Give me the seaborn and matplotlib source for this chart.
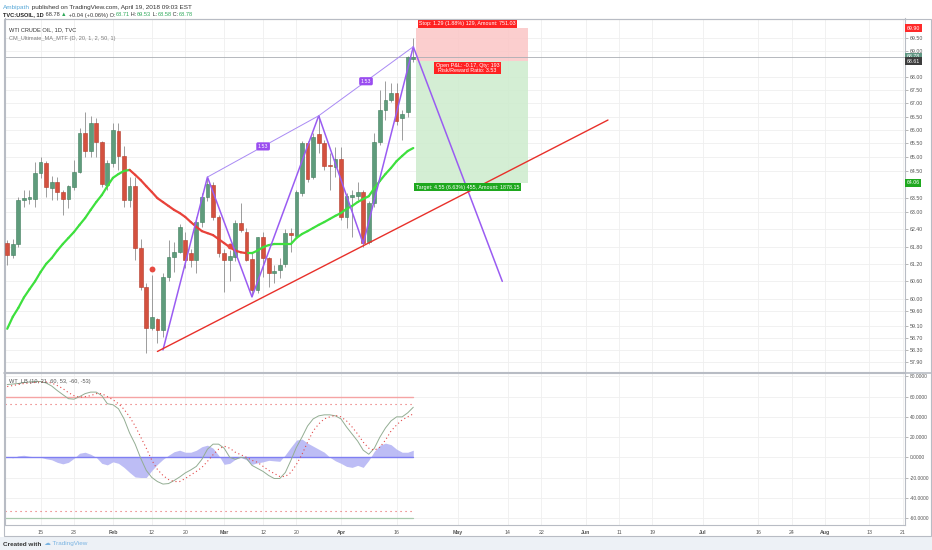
import numpy as np
import pandas as pd
import matplotlib.pyplot as plt
import matplotlib.ticker as mticker
from matplotlib.patches import Rectangle
from matplotlib.lines import Line2D
import seaborn as sns

sns.set_style('white')
plt.rcParams['font.family'] = ['Liberation Sans', 'DejaVu Sans']

# trading days shown on the time scale (Good Friday has no bar)
days = pd.bdate_range('2018-01-05', '2018-08-31')
days = days[days != pd.Timestamp('2018-03-30')]
pos = pd.Series(np.arange(len(days)), index=days)

# daily candles, Jan 5 .. Apr 19 2018
opens = [61.92, 61.50, 61.90, 63.45, 63.48, 63.48, 64.42, 64.78, 63.87, 64.09,
         63.73, 63.48, 63.91, 64.45, 65.89, 65.22, 66.26, 65.55, 64.00, 64.78,
         65.96, 65.04, 63.44, 63.94, 61.75, 60.40, 59.03, 59.33, 58.97, 60.75,
         61.43, 61.60, 62.03, 61.57, 61.33, 62.66, 63.55, 63.98, 62.84, 61.57,
         61.33, 61.43, 62.63, 62.31, 61.37, 60.30, 62.13, 61.40, 60.88, 60.98,
         61.20, 62.27, 62.17, 63.69, 65.51, 64.27, 65.85, 65.51, 64.71, 64.64,
         64.93, 62.84, 63.55, 63.59, 63.73, 61.96, 63.34, 65.55, 66.75, 67.12,
         67.39, 66.44, 66.67, 68.71]
highs = [62.04, 62.05, 63.55, 63.80, 63.80, 64.80, 65.00, 64.85, 64.30, 64.27,
         63.80, 64.00, 64.89, 66.06, 66.67, 66.52, 66.45, 65.60, 64.90, 66.26,
         66.26, 65.40, 64.27, 64.27, 62.07, 60.54, 60.82, 59.35, 60.88, 62.03,
         61.97, 62.60, 62.31, 61.70, 62.85, 63.70, 64.27, 64.10, 62.90, 61.70,
         61.68, 62.74, 63.34, 62.45, 61.57, 62.15, 62.31, 61.45, 61.16, 61.40,
         62.40, 62.45, 63.80, 65.60, 65.60, 65.88, 66.56, 65.63, 65.13, 65.37,
         65.37, 63.69, 63.80, 64.10, 63.80, 63.40, 65.88, 67.50, 67.83, 67.77,
         67.77, 66.75, 68.80, 69.53]
lows = [61.16, 61.40, 61.80, 63.20, 63.30, 63.20, 64.24, 63.56, 63.44, 63.44,
        62.90, 63.16, 63.80, 64.42, 65.00, 65.00, 65.00, 63.91, 63.80, 64.64,
        64.53, 63.20, 63.20, 61.33, 60.30, 58.21, 58.97, 58.54, 58.74, 60.60,
        60.92, 61.57, 61.06, 61.10, 60.88, 62.50, 63.40, 62.74, 61.45, 60.25,
        60.60, 61.30, 62.31, 61.30, 60.10, 60.20, 60.76, 60.41, 60.54, 60.70,
        61.10, 61.60, 62.10, 63.60, 64.10, 64.20, 65.15, 64.53, 63.80, 64.27,
        62.74, 62.45, 62.13, 63.44, 61.79, 61.90, 63.20, 65.45, 66.37, 67.05,
        66.20, 65.63, 66.50, 68.58]
closes = [61.50, 61.90, 63.45, 63.52, 63.55, 64.42, 64.80, 63.91, 64.09, 63.73,
          63.48, 63.94, 64.45, 65.89, 65.22, 66.26, 65.55, 64.02, 64.78, 66.00,
          65.04, 63.44, 63.94, 61.75, 60.40, 59.03, 59.40, 58.97, 60.75, 61.43,
          61.60, 62.49, 61.33, 61.33, 62.66, 63.55, 64.02, 62.84, 61.57, 61.33,
          61.47, 62.63, 62.38, 61.33, 60.30, 62.13, 61.40, 60.88, 60.95, 61.16,
          62.27, 62.20, 63.73, 65.51, 64.20, 65.74, 65.51, 64.67, 64.68, 64.93,
          62.84, 63.59, 63.62, 63.73, 61.92, 63.34, 65.55, 66.75, 67.12, 67.39,
          66.33, 66.60, 68.77, 68.78]

# CM_Ultimate_MA_MTF 20-day line
ma20 = [59.00, 59.40, 59.70, 60.05, 60.33, 60.60, 60.92, 61.20, 61.40, 61.66,
        61.89, 62.10, 62.31, 62.56, 62.80, 63.09, 63.37, 63.62, 63.94, 64.24,
        64.38, 64.49, 64.53, 64.35, 64.16, 63.94, 63.73, 63.51, 63.37, 63.23,
        63.09, 62.98, 62.84, 62.66, 62.49, 62.34, 62.27, 62.20, 62.06, 61.92,
        61.78, 61.66, 61.60, 61.57, 61.57, 61.66, 61.78, 61.85, 61.89, 61.89,
        61.89, 61.89, 62.10, 62.24, 62.34, 62.45, 62.56, 62.66, 62.77, 62.88,
        62.98, 63.13, 63.23, 63.37, 63.48, 63.58, 63.87, 64.13, 64.38, 64.60,
        64.85, 65.04, 65.22, 65.33]
dot_dates = ['2018-02-12', '2018-03-02']
dot_prices = [61.04, 61.82]

# drawings
pattern_dates = ['2018-02-14', '2018-02-26', '2018-03-08', '2018-03-26',
                 '2018-04-06', '2018-04-19', '2018-05-11']
pattern_prices = [58.30, 64.27, 60.07, 66.53, 61.90, 69.17, 60.60]
ratio_labels = ['1.53', '1.53']
trend_dates = ['2018-02-13', '2018-06-07']
trend_prices = [58.25, 66.37]

entry, stop, target = 68.61, 69.90, 64.06
box_dates = ['2018-04-20', '2018-05-18']
last_price = 68.78

price_ticks = [69.50, 69.00, 68.00, 67.50, 67.00, 66.50, 66.00, 65.50, 65.00,
               64.50, 63.50, 63.00, 62.40, 61.80, 61.20, 60.60, 60.00, 59.60,
               59.10, 58.70, 58.30, 57.90]
tags = [(69.90, '#ff2a2a'), (68.78, '#5f9682'), (68.61, '#3d3d3d'), (64.06, '#1ea81e')]

# WaveTrend (WT_LB)
wt1 = [72, 72.5, 73, 74, 74.5, 75, 75, 73.5, 70.5, 66,
       62, 58, 57.5, 60, 63, 64.5, 64.5, 61, 53, 52,
       48, 38, 24, 13, -1, -13, -20, -24, -26.5, -26,
       -23, -19.5, -15.5, -12.5, -9, -2, 8, 13, 13, 9,
       0, -2, 0, -1, -8, -11, -14, -18, -21, -21,
       -15, -3, 10, 20, 31, 38, 41, 42, 42, 41,
       38, 30, 23, 16, 7, 3, 9, 20, 29, 36,
       40, 40, 44, 49.5]
wt2 = [70, 71, 72, 73, 73.5, 74, 74.5, 74.5, 73.5, 71,
       68, 64, 61, 59.5, 60, 61, 63, 63, 60, 57,
       53, 47.5, 40, 31, 20, 9, -3, -12, -18, -22,
       -24, -24, -21, -17.5, -14, -10, -4, 2.5, 8, 11,
       9, 5, 2.5, 0, -3, -5, -9, -13, -16, -19,
       -19, -15, -7, 3, 15, 26, 33, 38, 40, 41.5,
       40, 36, 30, 23, 15, 9, 7, 10, 17, 26,
       32, 37, 40, 43]
wt_hist = [0.5, -0.5, 1.5, 2, 1, 0.5, 0, -1.5, -2.5, -5,
           -6.5, -5, -1, 4, 5, 3, 0, -6, -7.5, -4.5,
           -6, -10, -15, -19.5, -20, -20, -13, -7, -2, 2,
           5.5, 7, 5, 5, 7, 10.5, 12, 9, 2, -7,
           -6, -2, 0, -2.5, -7, -5.5, -4.5, -3, -3.5, -4,
           2.5, 10, 17, 18, 14, 11, 8, 5, 0, -3.5,
           -6, -9, -10, -8, -10, -3, 6, 12, 14, 12.5,
           8, 5, 5, 7]
wt_ticks = [80, 60, 40, 20, 0, -20, -40, -60]

tick_dates = ['2018-01-15', '2018-01-23', '2018-02-01', '2018-02-12', '2018-02-20',
              '2018-03-01', '2018-03-12', '2018-03-20', '2018-04-02', '2018-04-16',
              '2018-05-01', '2018-05-14', '2018-05-22', '2018-06-01', '2018-06-11',
              '2018-06-19', '2018-07-02', '2018-07-16', '2018-07-24', '2018-08-01',
              '2018-08-13', '2018-08-21']
tick_labels = ['15', '23', 'Feb', '12', '20', 'Mar', '12', '20', 'Apr', '16', 'May',
               '14', '22', 'Jun', '11', '19', 'Jul', '16', '24', 'Aug', '13', '21']

# ---------------------------------------------------------------
W, H = 932, 550
fig = plt.figure(figsize=(W / 100, H / 100), dpi=100)
ax = fig.add_axes([5 / W, (H - 372) / H, 900 / W, 353.5 / H])
ax2 = fig.add_axes([5 / W, (H - 525) / H, 900 / W, 152 / H])

xi = np.arange(len(closes))
tpos = [pos[pd.Timestamp(d)] for d in tick_dates]
grid_c = '#efefef'
for a in (ax, ax2):
    a.set_xlim(-0.4, 161.4)
    for t in tpos:
        a.axvline(t, color=grid_c, lw=0.6, zorder=0)
    for s in a.spines.values():
        s.set_color('#b8bcc4')
        s.set_linewidth(0.8)

# main pane
ax.set_yscale('log')
ax.set_ylim(57.58, 70.28)
for p in price_ticks:
    ax.axhline(p, color=grid_c, lw=0.6, zorder=0)

o = np.array(opens)
c = np.array(closes)
up = c >= o
body_c = np.where(up, '#5f9c7c', '#d4513f')
edge_c = np.where(up, '#3f7d5c', '#b23a2a')
ax.vlines(xi, lows, highs, color='#8d8d8d', lw=0.6, zorder=2)
ax.bar(xi, np.abs(c - o), bottom=np.minimum(o, c), width=0.68, color=body_c,
       edgecolor=edge_c, linewidth=0.4, zorder=3)

rows = []
for k in range(len(ma20) - 1):
    d = 'up' if ma20[k + 1] >= ma20[k] else 'down'
    rows += [(k, xi[k], ma20[k], d), (k, xi[k + 1], ma20[k + 1], d)]
segs = pd.DataFrame(rows, columns=['seg', 'x', 'ma', 'dir'])
sns.lineplot(data=segs, x='x', y='ma', hue='dir', units='seg', estimator=None,
             palette={'up': '#3ee03e', 'down': '#e8423a'}, lw=1.6, legend=False,
             ax=ax, zorder=4)
ax.scatter([pos[pd.Timestamp(d)] for d in dot_dates], dot_prices, s=18,
           color='#e64a40', zorder=5, linewidths=0)

# position box
bx0 = pos[pd.Timestamp(box_dates[0])] - 0.45
bx1 = pos[pd.Timestamp(box_dates[1])] - 0.45
ax.add_patch(Rectangle((bx0, entry), bx1 - bx0, stop - entry, fc='#fbc6c6',
                       ec='none', alpha=0.85, zorder=1))
ax.add_patch(Rectangle((bx0, target), bx1 - bx0, entry - target, fc='#cdeccd',
                       ec='none', alpha=0.85, zorder=1))
ax.axhline(last_price, color='#a9adb3', lw=0.6, zorder=1)
bc = (bx0 + bx1) / 2 - 0.8
lab = dict(fontsize=3.9, color='white', ha='center', zorder=8, clip_on=False)
ax.annotate('Stop: 1.29 (1.88%) 129, Amount: 751.03', xy=(bc, stop),
            xytext=(0, 1.2), textcoords='offset points', va='bottom',
            bbox=dict(boxstyle='square,pad=0.25', fc='#ff2222', ec='none'), **lab)
ax.annotate('Open P&L: -0.17, Qty: 193\nRisk/Reward Ratio: 3.53', xy=(bc, entry),
            xytext=(0, -1.5), textcoords='offset points', va='top', linespacing=0.95,
            bbox=dict(boxstyle='square,pad=0.25', fc='#ff2222', ec='none'), **lab)
ax.annotate('Target: 4.55 (6.63%) 455, Amount: 1878.15', xy=(bc, target),
            xytext=(0, -1.2), textcoords='offset points', va='top',
            bbox=dict(boxstyle='square,pad=0.25', fc='#1ea81e', ec='none'), **lab)

# pattern drawing and trend line
px = [pos[pd.Timestamp(d)] for d in pattern_dates]
ax.plot(px, pattern_prices, color='#9a5cf2', lw=1.1, zorder=6)
ax.plot([px[1], px[3], px[5]], [pattern_prices[1], pattern_prices[3], pattern_prices[5]],
        color='#a98af4', lw=0.7, zorder=6)
for lbl, (a_, b_) in zip(ratio_labels, [(1, 3), (3, 5)]):
    mx = (px[a_] + px[b_]) / 2
    my = np.sqrt(pattern_prices[a_] * pattern_prices[b_])
    ax.text(mx, my, lbl, fontsize=3.8, color='white', ha='center', va='center', zorder=8,
            bbox=dict(boxstyle='round,pad=0.3', fc='#9a4df0', ec='none'))
ax.plot([pos[pd.Timestamp(d)] for d in trend_dates], trend_prices, color='#e8302a',
        lw=1.0, zorder=6)

ax.yaxis.tick_right()
ax.yaxis.set_major_locator(mticker.FixedLocator(price_ticks))
ax.yaxis.set_major_formatter(mticker.FixedFormatter([f'{p:.2f}' for p in price_ticks]))
ax.yaxis.set_minor_locator(mticker.NullLocator())
ax.tick_params(axis='y', direction='out', length=2, width=0.5, color='#9a9a9a',
               labelsize=3.8, labelcolor='#555555', pad=1.5)
ax.set_xticks(tpos)
ax.tick_params(axis='x', length=0, labelbottom=False)
ax.set_xlabel('')
ax.set_ylabel('')
for v, col in tags:
    ax.annotate(f'{v:.2f}', xy=(1, v), xycoords=ax.get_yaxis_transform(),
                xytext=(1.2, 0), textcoords='offset points', va='center', ha='left',
                fontsize=3.8, color='white', annotation_clip=False, zorder=9,
                bbox=dict(boxstyle='square,pad=0.3', fc=col, ec='none'))

ax.text(0.004, 0.975, 'WTI CRUDE OIL, 1D, TVC', transform=ax.transAxes, fontsize=4.1,
        color='#333333', va='top')
ax.text(0.004, 0.95, 'CM_Ultimate_MA_MTF (D, 20, 1, 2, 50, 1)', transform=ax.transAxes,
        fontsize=4.1, color='#7a7a7a', va='top')

# WaveTrend pane
ax2.set_ylim(-67, 83.4)
for v in wt_ticks:
    ax2.axhline(v, color=grid_c, lw=0.6, zorder=0)
ax2.fill_between(xi, 0, wt_hist, color='#b6b6f4', alpha=0.9, lw=0, zorder=1)
span = (xi[-1] + 0.4) / 161.8
ax2.axhline(0, color='#7f7ff2', lw=1.0, zorder=2, xmax=span)
ax2.axhline(60, color='#f5a4a4', lw=1.0, zorder=2, xmax=span)
ax2.axhline(-60, color='#a9c9ad', lw=0.9, zorder=2, xmax=span)
for v in (53, -53):
    ax2.axhline(v, color='#e86060', lw=0.8, ls=(0, (1, 3.5)), zorder=2, xmax=span)
sns.lineplot(x=xi, y=wt1, color='#93ad93', lw=0.7, ax=ax2, zorder=3)
sns.lineplot(x=xi, y=wt2, color='#e24a4a', lw=0.8, ls=(0, (1, 2.5)), ax=ax2, zorder=3)
ax2.yaxis.tick_right()
ax2.set_yticks(wt_ticks)
ax2.set_yticklabels([f'{v:.4f}' for v in wt_ticks])
ax2.tick_params(axis='y', direction='out', length=2, width=0.5, color='#9a9a9a',
                labelsize=3.5, labelcolor='#555555', pad=1.5)
ax2.set_xticks(tpos)
ax2.set_xticklabels(tick_labels)
ax2.tick_params(axis='x', direction='out', length=2, width=0.5, color='#9a9a9a',
                labelsize=3.8, labelcolor='#555555', pad=1.5)
for t in ax2.get_xticklabels():
    if t.get_text().isalpha():
        t.set_fontweight('bold')
ax2.set_xlabel('')
ax2.set_ylabel('')
ax2.text(0.004, 0.96, 'WT_LB (10, 21, 60, 53, -60, -53)', transform=ax2.transAxes,
         fontsize=4.1, color='#555555', va='top')

# frame, separator and footer
fig.add_artist(Rectangle((4 / W, (H - 536) / H), 927 / W, 517.5 / H, transform=fig.transFigure,
                         fill=False, ec='#b8bcc4', lw=0.8))
fig.add_artist(Line2D([4 / W, 931 / W], [(H - 372.5) / H] * 2, transform=fig.transFigure,
                      color='#b8bcc4', lw=1.2))
fig.add_artist(Rectangle((0, 0), 1, (H - 536.5) / H, transform=fig.transFigure,
                         fc='#edf1f6', ec='none', zorder=-1))


def chain(prev, s, color='#333333', weight='normal', size=4.1):
    return ax.annotate(s, xy=(1, 0), xycoords=prev, va='bottom', ha='left', color=color,
                       fontsize=size, fontweight=weight, annotation_clip=False)


t = fig.text(3 / W, 1 - 9 / H, 'Ambipath', color='#5aa9d8', fontsize=4.6)
chain(t, ' published on TradingView.com, April 19, 2018 09:03 EST', size=4.6)
green = '#2ea85a'
t = fig.text(3 / W, 1 - 16.5 / H, 'TVC:USOIL, 1D', color='#222222', fontsize=4.1,
             fontweight='bold')
for s, col in [(' 68.78 ', '#333333'), ('\u25b2', green), (' +0.04 (+0.06%) O:', '#333333'),
               ('68.71', green), (' H:', '#333333'), ('69.53', green), (' L:', '#333333'),
               ('68.58', green), (' C:', '#333333'), ('68.78', green)]:
    t = chain(t, s, color=col)

t = fig.text(3 / W, 4.5 / H, 'Created with', color='#333333', fontsize=4.6,
             fontweight='bold')
chain(t, '  \u2601 TradingView', color='#7ab4e2', size=4.6)

fig.savefig('out.png', dpi=100)
